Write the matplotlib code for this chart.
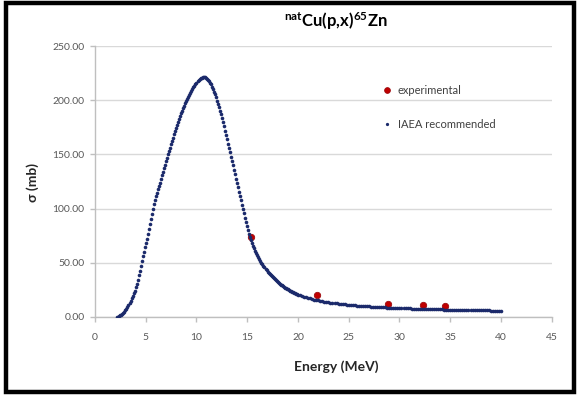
import numpy as np
import matplotlib
matplotlib.use('Agg')
from matplotlib import pyplot as plt
from matplotlib.patches import Rectangle

plt.rcParams['font.family'] = ['Lato', 'DejaVu Sans']
plt.rcParams['mathtext.fontset'] = 'custom'
plt.rcParams['mathtext.bf'] = 'Lato:bold'
plt.rcParams['mathtext.rm'] = 'Lato'
plt.rcParams['mathtext.default'] = 'bf'

# IAEA recommended cross section (mb), 0.1 MeV grid from 2.2 to 20.0 MeV
e_low = np.round(np.arange(2.2, 20.05, 0.1), 1)
sig_low = [
    0.0, 0.3, 0.8, 1.4, 2.1, 2.8, 3.5, 4.6, 6.0, 7.6,
    9.3, 11.1, 13.0, 15.0, 17.1, 19.4, 21.8, 24.4, 27.4, 30.8,
    34.5, 38.5, 42.8, 47.2, 51.6, 56.0, 60.2, 64.3, 68.3, 72.3,
    76.5, 81.0, 85.6, 90.4, 95.2, 99.8, 104.0, 107.8, 111.4, 114.8,
    118.0, 121.0, 124.0, 127.3, 130.6, 133.9, 137.2, 140.5, 143.7, 146.9,
    150.0, 153.1, 156.2, 159.3, 162.4, 165.4, 168.4, 171.4, 174.3, 177.1,
    179.9, 182.6, 185.2, 187.8, 190.3, 192.7, 195.0, 197.2, 199.3, 201.3,
    203.2, 205.0, 206.8, 208.5, 210.2, 211.8, 213.3, 214.7, 216.0, 217.3,
    218.4, 219.4, 220.2, 220.8, 221.1, 221.2, 221.0, 220.6, 219.8, 218.8,
    217.6, 216.2, 214.5, 212.5, 210.3, 207.9, 205.3, 202.6, 199.7, 196.8,
    193.7, 190.4, 187.0, 183.4, 179.7, 175.9, 172.0, 168.0, 164.0, 160.0,
    156.0, 152.0, 148.0, 143.9, 139.8, 135.7, 131.6, 127.5, 123.5, 119.5,
    115.5, 111.5, 107.5, 103.5, 99.5, 95.5, 91.5, 87.5, 83.5, 80.0,
    76.7, 73.6, 70.8, 68.2, 65.8, 63.5, 61.3, 59.2, 57.2, 55.3,
    53.5, 51.8, 50.2, 48.7, 47.2, 45.8, 44.4, 43.1, 41.8, 40.6,
    39.5, 38.5, 37.5, 36.5, 35.6, 34.7, 33.8, 33.0, 32.2, 31.4,
    30.6, 29.9, 29.2, 28.5, 27.8, 27.2, 26.6, 26.0, 25.4, 24.8,
    24.3, 23.8, 23.3, 22.8, 22.3, 21.9, 21.5, 21.1, 20.7,
]
# 0.2 MeV grid from 20.2 to 40.0 MeV
e_high = np.round(np.arange(20.2, 40.05, 0.2), 1)
sig_high = [
    20.0, 19.3, 18.7, 18.1, 17.6, 17.1, 16.6, 16.1, 15.7, 15.3,
    14.9, 14.5, 14.2, 13.9, 13.6, 13.3, 13.0, 12.7, 12.5, 12.2,
    12.0, 11.8, 11.6, 11.4, 11.2, 11.0, 10.8, 10.7, 10.5, 10.4,
    10.2, 10.1, 9.9, 9.8, 9.7, 9.6, 9.4, 9.3, 9.2, 9.1,
    9.0, 8.9, 8.8, 8.7, 8.6, 8.5, 8.5, 8.4, 8.3, 8.2,
    8.2, 8.1, 8.0, 7.9, 7.9, 7.8, 7.7, 7.7, 7.6, 7.6,
    7.5, 7.4, 7.4, 7.3, 7.3, 7.2, 7.2, 7.1, 7.1, 7.0,
    7.0, 6.9, 6.9, 6.8, 6.8, 6.7, 6.7, 6.6, 6.6, 6.5,
    6.5, 6.4, 6.4, 6.4, 6.3, 6.3, 6.2, 6.2, 6.2, 6.1,
    6.1, 6.0, 6.0, 6.0, 5.9, 5.9, 5.9, 5.8, 5.8, 5.8,
]
iaea_e = np.concatenate([e_low, e_high])
iaea_sig = np.array(sig_low + sig_high)

# experimental points
exp_e = [15.4, 21.9, 28.9, 32.3, 34.5]
exp_sig = [73.8, 20.3, 12.0, 11.0, 10.1]

W, H = 578, 397
fig = plt.figure(figsize=(W / 100, H / 100), dpi=100)
ax = fig.add_axes([95 / W, 1 - 317 / H, (551.7 - 95) / W, (317 - 46) / H])

ax.plot(exp_e, exp_sig, linestyle='none', marker='o', markersize=4.6,
        color='#C00000', markeredgecolor='#9E0B0F', markeredgewidth=0.6,
        label='experimental', zorder=3)
ax.plot(iaea_e, iaea_sig, linestyle='none', marker='o', markersize=2.6,
        color='#1B2A6B', markeredgewidth=0, label='IAEA recommended', zorder=4)

ax.set_xlim(0, 45)
ax.set_ylim(0, 250)
ax.set_xticks(np.arange(0, 46, 5))
ax.set_yticks(np.arange(0, 251, 50))
ax.set_yticklabels(['%.2f' % v for v in np.arange(0, 251, 50)])
ax.grid(axis='y', color='#d9d9d9', linewidth=1.0)
ax.set_axisbelow(True)
for s in ['top', 'right']:
    ax.spines[s].set_visible(False)
for s in ['left', 'bottom']:
    ax.spines[s].set_color('#bfbfbf')
    ax.spines[s].set_linewidth(1.0)
ax.tick_params(axis='both', colors='#bfbfbf', labelcolor='#595959',
               labelsize=7.5, length=3.5, width=1.0, direction='out')
ax.tick_params(axis='x', pad=8)
ax.tick_params(axis='y', pad=4)

leg = ax.legend(loc='upper left', bbox_to_anchor=(376 / W, 1 - 79 / H),
                bbox_transform=fig.transFigure, frameon=False, fontsize=8,
                borderpad=0, handlelength=1.0, handletextpad=0.45,
                labelspacing=2.1, markerscale=0.9)
for t in leg.get_texts():
    t.set_color('#404040')

fig.text(336 / W, 1 - 21 / H, r'$^{nat}$Cu(p,x)$^{65}$Zn', ha='center',
         va='center', fontsize=12, fontweight='bold', color='#000000')
fig.text(336 / W, 1 - 367 / H, 'Energy (MeV)', ha='center', va='center',
         fontsize=10, fontweight='bold', color='#262626')
fig.text(33 / W, 1 - 183 / H, 'σ (mb)', ha='center', va='center',
         rotation=90, fontsize=10, fontweight='bold', color='#262626',
         family=['Lato', 'DejaVu Sans'])

# outer frame
fig.patches.append(Rectangle((5.5 / W, 5.5 / H), (W - 10) / W, (H - 8.5) / H,
                             transform=fig.transFigure, fill=False,
                             edgecolor='black', linewidth=3.2))

fig.savefig('out.png', dpi=100)
